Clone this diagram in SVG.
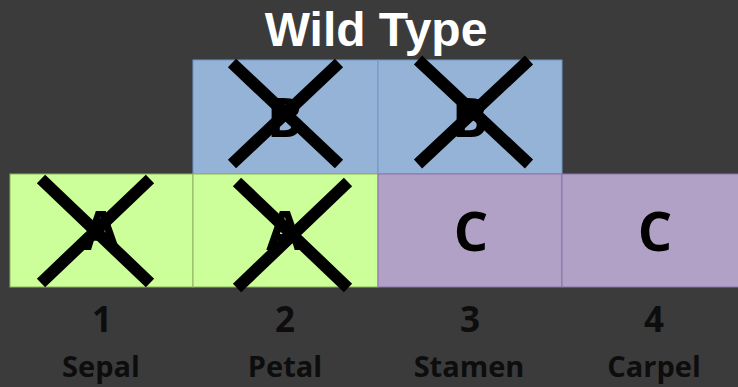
<svg xmlns="http://www.w3.org/2000/svg" width="738" height="387" viewBox="0 0 738 387">
<style>
.bg{fill:#3b3b3b}
.b{fill:#95b3d7;stroke:#7097c9;stroke-width:1}
.a{fill:#ccff99;stroke:#8fb25f;stroke-width:1}
.c{fill:#b2a1c7;stroke:#8a73a8;stroke-width:1}
.L{font-family:"Open Sans","Liberation Sans",sans-serif;font-weight:bold;font-size:54px;fill:#000;text-anchor:middle}
.x{stroke:#000;stroke-width:12;stroke-linecap:butt;fill:none}
.n{font-family:"Open Sans","Liberation Sans",sans-serif;font-weight:bold;font-size:35px;fill:#0d0d0d;text-anchor:middle}
.s{font-family:"Open Sans","Liberation Sans",sans-serif;font-weight:bold;font-size:29px;fill:#0d0d0d;text-anchor:middle}
.t{font-family:"Liberation Sans",Arial,sans-serif;font-weight:bold;font-size:48px;fill:#fff;text-anchor:middle}
</style>
<rect class="bg" x="0" y="0" width="738" height="387"/>
<text class="t" x="376" y="46">Wild Type</text>
<g id="b1"><rect class="b" x="193" y="60" width="185" height="114"/><text class="L" x="285" y="137">B</text></g>
<g id="b2"><rect class="b" x="378" y="60" width="184" height="114"/><text class="L" x="470" y="137">B</text></g>
<g id="a1"><rect class="a" x="10" y="174" width="183" height="113"/><text class="L" x="101" y="250">A</text></g>
<g id="a2"><rect class="a" x="193" y="174" width="185" height="113"/><text class="L" x="285" y="250">A</text></g>
<g id="c3"><rect class="c" x="378" y="174" width="184" height="113"/><text class="L" x="471" y="251">C</text></g>
<g id="c4"><rect class="c" x="562" y="174" width="180" height="113"/><text class="L" x="655" y="251">C</text></g>
<g id="marks">
<path class="x" d="M232,63 L339,164 M339,63 L232,164"/>
<path class="x" d="M418,60 L529,164 M529,60 L418,164"/>
<path class="x" d="M41,179 L150,283 M150,179 L41,283"/>
<path class="x" d="M237,182 L348,288 M348,182 L237,288"/>
</g>
<g id="labels">
<text class="n" x="102" y="332">1</text>
<text class="n" x="285" y="332">2</text>
<text class="n" x="470" y="332">3</text>
<text class="n" x="654" y="332">4</text>
<text class="s" x="101" y="377">Sepal</text>
<text class="s" x="285" y="377">Petal</text>
<text class="s" x="469" y="377">Stamen</text>
<text class="s" x="654" y="377">Carpel</text>
</g>
<g id="connectors"/>
</svg>
